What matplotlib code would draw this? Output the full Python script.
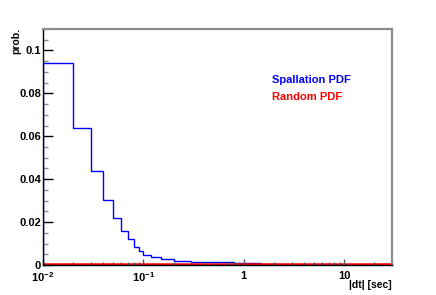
import numpy as np
import matplotlib
matplotlib.use('Agg')
import matplotlib.pyplot as plt
from matplotlib.ticker import FixedLocator, FixedFormatter, LogLocator, NullFormatter

plt.rcParams['font.family'] = ['Liberation Sans', 'DejaVu Sans']
plt.rcParams['font.weight'] = 'bold'
plt.rcParams['mathtext.fontset'] = 'custom'
plt.rcParams['mathtext.rm'] = 'Liberation Sans:bold'
plt.rcParams['mathtext.it'] = 'Liberation Sans:bold'
plt.rcParams['mathtext.bf'] = 'Liberation Sans:bold'

# histogram bin edges (sec) and probabilities
spall_edges = [0.01, 0.02, 0.03, 0.04, 0.05, 0.06, 0.07, 0.08, 0.09, 0.10,
               0.12, 0.15, 0.2, 0.25, 0.3, 0.4, 0.5, 0.6, 0.8, 1.0, 1.5,
               2.5, 30.0]
spall_prob = [0.094, 0.064, 0.044, 0.0305, 0.022, 0.0157, 0.012, 0.0085,
              0.0065, 0.0047, 0.0036, 0.0026, 0.002, 0.0018, 0.0015, 0.0014,
              0.0012, 0.0013, 0.001, 0.0008, 0.0005, 0.00005]
rand_edges = [0.01, 30.0]
rand_prob = [0.0003]

y_ticks = [0, 0.02, 0.04, 0.06, 0.08, 0.1]
y_labels = ['0', '0.02', '0.04', '0.06', '0.08', '0.1']
x_ticks = [0.01, 0.1, 1, 10]
x_labels = [r'$10^{-2}$', r'$10^{-1}$', '1', '10']

fig = plt.figure(figsize=(4.36, 2.95), dpi=100)
ax = fig.add_axes([43/436, 30/295, (392-43)/436, (265-29)/295])

ax.stairs(spall_prob, spall_edges, color='#0000ff', lw=1.0)
ax.stairs(rand_prob, rand_edges, color='#ff0000', lw=1.8)

ax.set_xscale('log')
ax.set_xlim(0.01, 30)
ax.set_ylim(0, 0.11)

ax.yaxis.set_major_locator(FixedLocator(y_ticks))
ax.yaxis.set_major_formatter(FixedFormatter(y_labels))
ax.yaxis.set_minor_locator(FixedLocator(np.arange(0, 0.1101, 0.005)))
ax.xaxis.set_major_locator(FixedLocator(x_ticks))
ax.xaxis.set_major_formatter(FixedFormatter(x_labels))
ax.xaxis.set_minor_locator(LogLocator(base=10, subs=np.arange(2, 10)))
ax.xaxis.set_minor_formatter(NullFormatter())

ax.tick_params(axis='y', which='major', direction='in', length=7, width=1,
               color='black', labelsize=8, pad=1.5)
ax.tick_params(axis='y', which='minor', direction='in', length=3.5, width=1,
               color='0.55')
ax.tick_params(axis='x', which='major', direction='in', length=4.5, width=1,
               color='0.35', labelsize=8, pad=4)
ax.tick_params(axis='x', which='minor', direction='in', length=2.5, width=1,
               color='0.35')

for side in ['top', 'right']:
    ax.spines[side].set_color('0.55')
    ax.spines[side].set_linewidth(1.6)
ax.spines['left'].set_linewidth(1.0)
ax.spines['bottom'].set_linewidth(1.0)

fig.text(16/436, 1 - 28/295, 'prob.', rotation=90, ha='center', va='top',
         fontsize=7.5, fontweight='bold')
fig.text(392/436, 1 - 285/295, '|dt| [sec]', ha='right', va='center',
         fontsize=7.5, fontweight='bold')

ax.text(0.657, 0.786, 'Spallation PDF', transform=ax.transAxes, color='#0000ff',
        fontsize=8, fontweight='bold', va='center')
ax.text(0.657, 0.713, 'Random PDF', transform=ax.transAxes, color='#ff0000',
        fontsize=8, fontweight='bold', va='center')

fig.savefig('out.png', dpi=100)
